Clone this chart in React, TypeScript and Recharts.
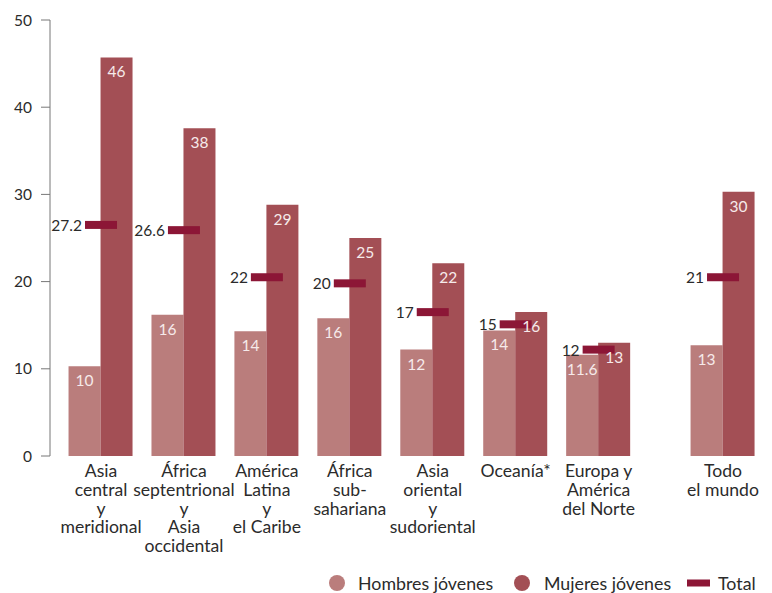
import React from 'react';
import { ComposedChart, Bar, Scatter, XAxis, YAxis, LabelList } from 'recharts';

const categories: string[][] = [
  ['Asia', 'central', 'y', 'meridional'],
  ['África', 'septentrional', 'y', 'Asia', 'occidental'],
  ['América', 'Latina', 'y', 'el Caribe'],
  ['África', 'sub-', 'sahariana'],
  ['Asia', 'oriental', 'y', 'sudoriental'],
  ['Oceanía*'],
  ['Europa y', 'América', 'del Norte'],
  ['Todo', 'el mundo'],
];
const positions = [0, 1, 2, 3, 4, 5, 6, 7.5];
const hombres = [10.3, 16.2, 14.3, 15.8, 12.2, 14.4, 11.6, 12.7];
const mujeres = [45.7, 37.6, 28.8, 25.0, 22.1, 16.5, 13.0, 30.3];
const total = [26.5, 25.9, 20.5, 19.8, 16.5, 15.1, 12.2, 20.5];
const hombresLabels = ['10', '16', '14', '16', '12', '14', '11.6', '13'];
const mujeresLabels = ['46', '38', '29', '25', '22', '16', '13', '30'];
const totalLabels = ['27.2', '26.6', '22', '20', '17', '15', '12', '21'];
const yTicks = [0, 10, 20, 30, 40, 50];

const data = positions.map((p, i) => ({
  x: p,
  hombres: hombres[i],
  mujeres: mujeres[i],
  total: total[i],
  idx: i,
}));

const FONT = 'Lato, "Open Sans", sans-serif';
const C_LIGHT = '#ba7d7c';
const C_DARK = '#a34f55';
const C_TOTAL = '#8c1636';
const TEXT = '#2b2b2b';

const XTick = (props: any) => {
  const { x, y, payload } = props;
  const i = positions.indexOf(payload.value);
  const lines = i >= 0 ? categories[i] : [];
  return (
    <text x={x} y={y} textAnchor="middle" fontFamily={FONT} fontSize={17.6} fill={TEXT}>
      {lines.map((l, k) => (
        <tspan key={k} x={x} dy={k === 0 ? 21 : 18.8}>
          {l}
        </tspan>
      ))}
    </text>
  );
};

const makeBarLabel = (labels: string[]) => (props: any) => {
  const { x, y, width, index } = props;
  return (
    <text
      x={x + width / 2}
      y={y + 14}
      textAnchor="middle"
      dominantBaseline="central"
      fontFamily={FONT}
      fontSize={15.5}
      fill="#f6eaea"
    >
      {labels[index]}
    </text>
  );
};

const TotalShape = (props: any) => {
  const { cx, cy, payload } = props;
  return (
    <g>
      <rect x={cx - 16} y={cy - 4} width={32} height={8} fill={C_TOTAL} />
      <text
        x={cx - 19}
        y={cy}
        textAnchor="end"
        dominantBaseline="central"
        fontFamily={FONT}
        fontSize={15.5}
        fill={TEXT}
      >
        {totalLabels[payload.idx]}
      </text>
    </g>
  );
};

export default function App() {
  return (
    <div style={{ position: 'absolute', left: 0, top: 0, width: 772, height: 593, background: '#fff' }}>
      <ComposedChart
        width={772}
        height={593}
        data={data}
        margin={{ top: 20, right: 8, left: 0, bottom: 0 }}
        barGap={0}
      >
        <XAxis
          dataKey="x"
          type="number"
          domain={[-0.615, 7.994]}
          allowDataOverflow
          ticks={positions}
          interval={0}
          axisLine={false}
          tickLine={false}
          tickSize={0}
          tickMargin={0}
          height={137}
          tick={<XTick />}
        />
        <YAxis
          type="number"
          domain={[0, 50]}
          ticks={yTicks}
          width={50}
          tickSize={9}
          tickMargin={9}
          axisLine={{ stroke: '#777' }}
          tickLine={{ stroke: '#777' }}
          tick={{ fontFamily: FONT, fontSize: 15.5, fill: TEXT }}
        />
        <Bar dataKey="hombres" fill={C_LIGHT} barSize={32} isAnimationActive={false}>
          <LabelList dataKey="hombres" content={makeBarLabel(hombresLabels)} />
        </Bar>
        <Bar dataKey="mujeres" fill={C_DARK} barSize={32} isAnimationActive={false}>
          <LabelList dataKey="mujeres" content={makeBarLabel(mujeresLabels)} />
        </Bar>
        <Scatter dataKey="total" shape={<TotalShape />} isAnimationActive={false} />
      </ComposedChart>
      <svg
        width={772}
        height={36}
        style={{ position: 'absolute', left: 0, top: 555, overflow: 'visible' }}
        fontFamily={FONT}
        fontSize={17.8}
      >
        <circle cx={337} cy={28} r={8} fill={C_LIGHT} />
        <text x={358} y={28} dominantBaseline="central" fill={TEXT}>Hombres jóvenes</text>
        <circle cx={522} cy={28} r={8} fill={C_DARK} />
        <text x={544} y={28} dominantBaseline="central" fill={TEXT}>Mujeres jóvenes</text>
        <rect x={687} y={24.5} width={23} height={7} fill={C_TOTAL} />
        <text x={718} y={28} dominantBaseline="central" fill={TEXT}>Total</text>
      </svg>
    </div>
  );
}
